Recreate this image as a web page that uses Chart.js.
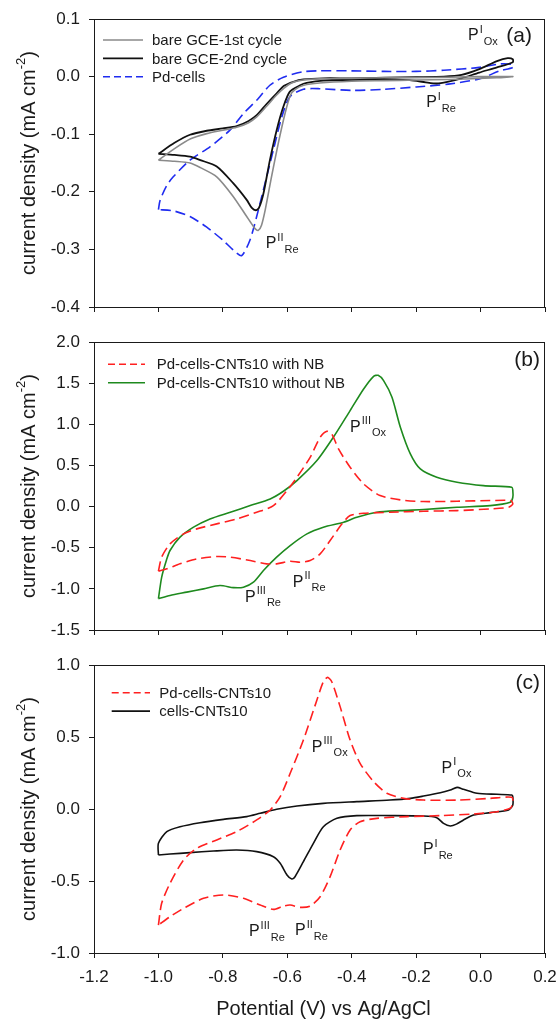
<!DOCTYPE html>
<html>
<head>
<meta charset="utf-8">
<script src="https://cdn.jsdelivr.net/npm/chart.js@4.4.1/dist/chart.umd.min.js"></script>
<style>
  html, body { margin: 0; padding: 0; background: #fff; }
  #wrap { position: relative; width: 556px; height: 1019px; overflow: hidden; }
  canvas { position: absolute; left: 0; }
</style>
</head>
<body>
<div id="wrap">
  <canvas id="panelA" width="556" height="330" style="top:0;width:556px;height:330px"></canvas>
  <canvas id="panelB" width="556" height="320" style="top:330px;width:556px;height:320px"></canvas>
  <canvas id="panelC" width="556" height="369" style="top:650px;width:556px;height:369px"></canvas>
</div>
<script>
// axis ticks
const potentialTicks = [-1.2, -1.0, -0.8, -0.6, -0.4, -0.2, 0.0, 0.2];
const currentTicksA = [-0.4, -0.3, -0.2, -0.1, 0.0, 0.1];
const currentTicksB = [-1.5, -1.0, -0.5, 0.0, 0.5, 1.0, 1.5, 2.0];
const currentTicksC = [-1.0, -0.5, 0.0, 0.5, 1.0];

// panel (a) - [potential V, current density mA cm-2]
const bareGce1st = [
  [-1.0,-0.145],[-0.95,-0.125],[-0.90,-0.108],[-0.85,-0.099],[-0.80,-0.093],[-0.757,-0.088],
  [-0.72,-0.080],[-0.695,-0.070],[-0.665,-0.052],[-0.633,-0.032],[-0.61,-0.020],[-0.587,-0.011],
  [-0.55,-0.006],[-0.5,-0.004],[-0.4,-0.003],[-0.3,-0.002],[-0.2,-0.002],[-0.1,-0.001],[0.0,0.0],[0.1,0.0],
  [0.05,-0.002],[-0.1,-0.005],[-0.2,-0.006],[-0.3,-0.007],[-0.4,-0.008],[-0.5,-0.011],[-0.549,-0.015],
  [-0.575,-0.022],[-0.59,-0.032],[-0.607,-0.064],[-0.628,-0.116],[-0.649,-0.174],[-0.668,-0.230],
  [-0.68,-0.258],[-0.69,-0.267],[-0.70,-0.264],[-0.715,-0.252],[-0.726,-0.243],[-0.768,-0.208],
  [-0.819,-0.174],[-0.87,-0.158],[-0.902,-0.150],[-0.95,-0.147],[-1.0,-0.145]
];
const bareGce2nd = [
  [-1.0,-0.134],[-0.95,-0.115],[-0.902,-0.101],[-0.85,-0.094],[-0.80,-0.090],[-0.757,-0.086],
  [-0.72,-0.077],[-0.695,-0.067],[-0.665,-0.048],[-0.633,-0.029],[-0.61,-0.016],[-0.581,-0.009],
  [-0.55,-0.005],[-0.489,-0.003],[-0.4,-0.003],[-0.3,-0.002],[-0.2,-0.001],[-0.114,0.0],[-0.059,0.003],
  [-0.004,0.013],[0.051,0.027],[0.084,0.032],[0.1,0.030],
  [0.1,0.025],[0.051,0.016],[-0.004,0.007],[-0.059,-0.003],[-0.103,-0.009],[-0.136,-0.012],[-0.17,-0.010],
  [-0.22,-0.006],[-0.35,-0.005],[-0.489,-0.007],[-0.54,-0.011],[-0.56,-0.015],[-0.592,-0.026],
  [-0.612,-0.052],[-0.633,-0.093],[-0.654,-0.145],[-0.674,-0.203],[-0.688,-0.228],[-0.698,-0.232],
  [-0.71,-0.228],[-0.726,-0.214],[-0.768,-0.185],[-0.819,-0.156],[-0.87,-0.145],[-0.902,-0.139],
  [-0.95,-0.136],[-1.0,-0.134]
];
const pdCells = [
  [-1.0,-0.231],[-0.995,-0.215],[-0.975,-0.190],[-0.954,-0.174],[-0.902,-0.145],[-0.84,-0.122],
  [-0.778,-0.093],[-0.736,-0.064],[-0.695,-0.041],[-0.654,-0.015],[-0.612,-0.001],[-0.55,0.0085],
  [-0.5,0.010],[-0.4,0.010],[-0.3,0.009],[-0.2,0.009],[-0.114,0.011],[-0.004,0.016],[0.06,0.022],[0.1,0.021],
  [0.1,0.016],[0.06,0.010],[-0.004,-0.004],[-0.1,-0.013],[-0.2,-0.018],[-0.3,-0.022],[-0.4,-0.024],
  [-0.5,-0.021],[-0.55,-0.022],[-0.592,-0.035],[-0.617,-0.070],[-0.643,-0.127],[-0.669,-0.185],
  [-0.695,-0.243],[-0.716,-0.284],[-0.742,-0.311],[-0.768,-0.301],[-0.8,-0.284],[-0.851,-0.261],
  [-0.902,-0.243],[-0.954,-0.233],[-1.0,-0.231]
];

// panel (b)
const cnts10WithNB = [
  [-1.0,-0.785],[-0.99,-0.615],[-0.964,-0.453],[-0.922,-0.332],[-0.881,-0.271],[-0.819,-0.210],
  [-0.757,-0.150],[-0.695,-0.069],[-0.643,0.012],[-0.601,0.194],[-0.57,0.356],[-0.529,0.599],
  [-0.498,0.842],[-0.477,0.915],[-0.462,0.883],[-0.441,0.700],[-0.405,0.478],[-0.363,0.275],
  [-0.312,0.134],[-0.249,0.081],[-0.177,0.061],[-0.073,0.065],[0.03,0.073],[0.094,0.073],
  [0.1,0.032],[0.087,-0.008],[0.03,-0.028],[-0.073,-0.049],[-0.177,-0.057],[-0.281,-0.069],
  [-0.363,-0.081],[-0.405,-0.109],[-0.43,-0.210],[-0.467,-0.413],[-0.498,-0.575],[-0.529,-0.656],
  [-0.56,-0.676],[-0.591,-0.664],[-0.633,-0.696],[-0.664,-0.696],[-0.715,-0.656],[-0.777,-0.615],
  [-0.819,-0.607],[-0.881,-0.636],[-0.933,-0.696],[-0.974,-0.757],[-1.0,-0.785]
];
const cnts10WithoutNB = [
  [-1.0,-1.12],[-0.99,-0.86],[-0.975,-0.65],[-0.964,-0.534],[-0.933,-0.372],[-0.891,-0.250],
  [-0.84,-0.150],[-0.777,-0.069],[-0.715,0.012],[-0.653,0.093],[-0.612,0.186],[-0.57,0.316],
  [-0.508,0.559],[-0.457,0.842],[-0.405,1.166],[-0.363,1.429],[-0.332,1.583],[-0.318,1.595],
  [-0.301,1.530],[-0.275,1.328],[-0.249,0.964],[-0.218,0.640],[-0.187,0.457],[-0.136,0.356],
  [-0.073,0.296],[0.009,0.255],[0.097,0.235],[0.1,0.20],[0.1,0.11],[0.092,0.053],[0.03,0.012],
  [-0.073,-0.008],[-0.177,-0.036],[-0.249,-0.049],[-0.322,-0.069],[-0.384,-0.130],[-0.425,-0.190],
  [-0.488,-0.251],[-0.539,-0.332],[-0.591,-0.474],[-0.633,-0.615],[-0.674,-0.777],[-0.705,-0.919],
  [-0.736,-0.980],[-0.767,-0.985],[-0.809,-0.960],[-0.86,-1.0],[-0.912,-1.04],[-0.964,-1.08],[-1.0,-1.12]
];

// panel (c)
const pdCellsCnts10 = [
  [-1.0,-0.806],[-0.99,-0.655],[-0.964,-0.516],[-0.922,-0.354],[-0.881,-0.273],[-0.819,-0.215],
  [-0.757,-0.157],[-0.695,-0.076],[-0.653,-0.007],[-0.622,0.086],[-0.591,0.248],[-0.55,0.479],
  [-0.508,0.757],[-0.488,0.884],[-0.475,0.914],[-0.462,0.884],[-0.436,0.711],[-0.405,0.479],
  [-0.374,0.317],[-0.332,0.190],[-0.291,0.109],[-0.239,0.074],[-0.177,0.062],[-0.073,0.062],
  [0.03,0.074],[0.097,0.081],[0.1,0.039],[0.092,0.005],[0.05,-0.019],[-0.022,-0.035],[-0.125,-0.046],
  [-0.229,-0.053],[-0.322,-0.065],[-0.374,-0.088],[-0.405,-0.146],[-0.436,-0.285],[-0.467,-0.470],
  [-0.498,-0.609],[-0.529,-0.674],[-0.56,-0.683],[-0.591,-0.667],[-0.612,-0.674],[-0.643,-0.697],
  [-0.684,-0.667],[-0.736,-0.620],[-0.798,-0.597],[-0.86,-0.620],[-0.922,-0.690],[-0.964,-0.748],[-1.0,-0.806]
];
const cellsCnts10 = [
  [-1.0,-0.319],[-1.0,-0.238],[-0.974,-0.157],[-0.933,-0.123],[-0.871,-0.095],[-0.798,-0.072],
  [-0.726,-0.053],[-0.684,-0.030],[-0.633,-0.002],[-0.57,0.021],[-0.488,0.039],[-0.384,0.051],
  [-0.281,0.062],[-0.218,0.074],[-0.177,0.090],[-0.125,0.113],[-0.094,0.132],[-0.073,0.150],
  [-0.053,0.137],[-0.011,0.109],[0.051,0.102],[0.097,0.097],[0.1,0.086],[0.1,0.028],[0.087,-0.007],
  [0.03,-0.025],[-0.022,-0.042],[-0.053,-0.076],[-0.075,-0.105],[-0.094,-0.118],[-0.115,-0.100],
  [-0.136,-0.060],[-0.177,-0.049],[-0.281,-0.046],[-0.384,-0.046],[-0.446,-0.065],[-0.488,-0.123],
  [-0.519,-0.238],[-0.55,-0.366],[-0.576,-0.470],[-0.586,-0.486],[-0.601,-0.458],[-0.622,-0.377],
  [-0.643,-0.331],[-0.695,-0.296],[-0.757,-0.285],[-0.829,-0.292],[-0.902,-0.303],[-0.964,-0.313],[-1.0,-0.319]
];

// peak labels, placed in data units
const peaksA = [
  { sup: 'I', sub: 'Ox', x: -0.039, y: 0.0635 },
  { sup: 'I', sub: 'Re', x: -0.169, y: -0.053 },
  { sup: 'II', sub: 'Re', x: -0.667, y: -0.298 }
];
const peaksB = [
  { sup: 'III', sub: 'Ox', x: -0.405, y: 0.91 },
  { sup: 'II', sub: 'Re', x: -0.583, y: -0.974 },
  { sup: 'III', sub: 'Re', x: -0.731, y: -1.156 }
];
const peaksC = [
  { sup: 'III', sub: 'Ox', x: -0.524, y: 0.398 },
  { sup: 'I', sub: 'Ox', x: -0.121, y: 0.252 },
  { sup: 'I', sub: 'Re', x: -0.179, y: -0.3125 },
  { sup: 'III', sub: 'Re', x: -0.719, y: -0.882 },
  { sup: 'II', sub: 'Re', x: -0.576, y: -0.875 }
];

const FONT = "'Liberation Sans', Arial, Helvetica, sans-serif";
const INK = '#1a1a1a';
Chart.defaults.font.family = FONT;
Chart.defaults.color = INK;

const toXY = arr => arr.map(p => ({ x: p[0], y: p[1] }));
const fmt = v => (Math.abs(v) < 1e-9 ? 0 : v).toFixed(1);

function series(label, pts, color, width, dash) {
  return {
    label, data: toXY(pts), showLine: true, pointRadius: 0,
    borderColor: color, backgroundColor: color, borderWidth: width,
    borderDash: dash || [], tension: 0.25, fill: false
  };
}

function drawPeak(ctx, px, py, sup, sub) {
  ctx.textAlign = 'left';
  ctx.textBaseline = 'alphabetic';
  ctx.font = '16px ' + FONT;
  ctx.fillText('P', px, py);
  const pw = ctx.measureText('P').width;
  ctx.font = '11px ' + FONT;
  const sx = px + pw + 1;
  ctx.fillText(sup, sx, py - 7.5);
  const sw = ctx.measureText(sup).width;
  ctx.fillText(sub, sx + sw + 1, py + 4.5);
}

const decorPlugin = {
  id: 'decor',
  afterDraw(chart, args, o) {
    const { ctx, chartArea: a, scales } = chart;
    ctx.save();
    // frame
    ctx.strokeStyle = INK;
    ctx.lineWidth = 1;
    ctx.strokeRect(Math.round(a.left) + 0.5, Math.round(a.top) + 0.5,
      Math.round(a.right - a.left) - 1, Math.round(a.bottom - a.top));
    ctx.fillStyle = INK;

    // legend
    chart.data.datasets.forEach((ds, i) => {
      const y = a.top + o.legend.y0 + i * o.legend.dy;
      ctx.beginPath();
      ctx.strokeStyle = ds.borderColor;
      ctx.lineWidth = ds.borderWidth;
      ctx.setLineDash(ds.borderDash.length ? [7, 4] : []);
      ctx.moveTo(a.left + o.legend.x0, y);
      ctx.lineTo(a.left + o.legend.x1, y);
      ctx.stroke();
      ctx.setLineDash([]);
      ctx.font = '15px ' + FONT;
      ctx.textAlign = 'left';
      ctx.textBaseline = 'middle';
      ctx.fillText(ds.label, a.left + o.legend.tx, y + 1);
    });

    // panel tag
    ctx.font = '21px ' + FONT;
    ctx.textAlign = 'right';
    ctx.textBaseline = 'middle';
    ctx.fillText(o.tag, a.right - o.tagRight, a.top + o.tagDown);

    // peak labels
    o.peaks.forEach(p => {
      drawPeak(ctx, scales.x.getPixelForValue(p.x), scales.y.getPixelForValue(p.y), p.sup, p.sub);
    });

    // y title, rotated
    ctx.save();
    ctx.translate(29, (a.top + a.bottom) / 2);
    ctx.rotate(-Math.PI / 2);
    ctx.textBaseline = 'middle';
    ctx.textAlign = 'left';
    const main = 'current density (mA cm';
    ctx.font = '20px ' + FONT;
    const w1 = ctx.measureText(main).width;
    const w3 = ctx.measureText(')').width;
    ctx.font = '13px ' + FONT;
    const w2 = ctx.measureText('-2').width;
    let x = -(w1 + w2 + w3) / 2;
    ctx.font = '20px ' + FONT;
    ctx.fillText(main, x, 0);
    ctx.font = '13px ' + FONT;
    ctx.fillText('-2', x + w1, -8);
    ctx.font = '20px ' + FONT;
    ctx.fillText(')', x + w1 + w2, 0);
    ctx.restore();

    // x title
    if (o.xTitle) {
      ctx.font = '20px ' + FONT;
      ctx.textAlign = 'center';
      ctx.textBaseline = 'middle';
      ctx.fillText(o.xTitle, (a.left + a.right) / 2 + 4, a.bottom + 56);
    }
    ctx.restore();
  }
};

function makePanel(id, datasets, yTicks, cfg) {
  return new Chart(document.getElementById(id), {
    type: 'scatter',
    data: { datasets },
    options: {
      responsive: false,
      animation: false,
      devicePixelRatio: 1,
      layout: { padding: { top: cfg.padTop, right: 11, left: 0, bottom: 0 } },
      plugins: {
        legend: { display: false },
        tooltip: { enabled: false },
        decor: cfg.decor
      },
      scales: {
        x: {
          type: 'linear', min: -1.2, max: 0.2,
          afterBuildTicks: s => { s.ticks = potentialTicks.map(v => ({ value: v })); },
          afterFit: s => { s.height = cfg.xHeight; s.paddingLeft = 0; s.paddingRight = 0; },
          border: { display: false },
          grid: { drawOnChartArea: false, drawTicks: true, tickLength: 5, color: INK },
          ticks: { display: cfg.showX, padding: 9, maxRotation: 0, color: INK,
                   font: { size: 17 }, callback: v => fmt(v) }
        },
        y: {
          type: 'linear', min: yTicks[0], max: yTicks[yTicks.length - 1],
          afterBuildTicks: s => { s.ticks = yTicks.map(v => ({ value: v })); },
          afterFit: s => { s.width = 94; s.paddingTop = 0; s.paddingBottom = 0; },
          border: { display: false },
          grid: { drawOnChartArea: false, drawTicks: true, tickLength: 5, color: INK },
          ticks: { padding: 9, color: INK, font: { size: 17 }, callback: v => fmt(v) }
        }
      }
    },
    plugins: [decorPlugin]
  });
}

makePanel('panelA', [
  series('bare GCE-1st cycle', bareGce1st, '#8a8a8a', 1.6),
  series('bare GCE-2nd cycle', bareGce2nd, '#111111', 1.8),
  series('Pd-cells', pdCells, '#1f2cf0', 1.6, [10, 5])
], currentTicksA, {
  padTop: 19, xHeight: 23, showX: false,
  decor: { legend: { x0: 9, x1: 49, y0: 21, dy: 18.4, tx: 58 }, tag: '(a)', tagRight: 13, tagDown: 17, peaks: peaksA }
});

makePanel('panelB', [
  series('Pd-cells-CNTs10 with NB', cnts10WithNB, '#ff2020', 1.6, [10, 5]),
  series('Pd-cells-CNTs10 without NB', cnts10WithoutNB, '#1e8a1e', 1.6)
], currentTicksB, {
  padTop: 12, xHeight: 20, showX: false,
  decor: { legend: { x0: 14, x1: 51, y0: 22.3, dy: 18.4, tx: 62.7 }, tag: '(b)', tagRight: 5, tagDown: 18, peaks: peaksB }
});

makePanel('panelC', [
  series('Pd-cells-CNTs10', pdCellsCnts10, '#ff2020', 1.6, [10, 5]),
  series('cells-CNTs10', cellsCnts10, '#111111', 1.6)
], currentTicksC, {
  padTop: 15, xHeight: 66, showX: true,
  decor: { legend: { x0: 17.7, x1: 56, y0: 27.7, dy: 18.4, tx: 65.3 }, tag: '(c)', tagRight: 5, tagDown: 18,
           peaks: peaksC, xTitle: 'Potential (V) vs Ag/AgCl' }
});
</script>
</body>
</html>
